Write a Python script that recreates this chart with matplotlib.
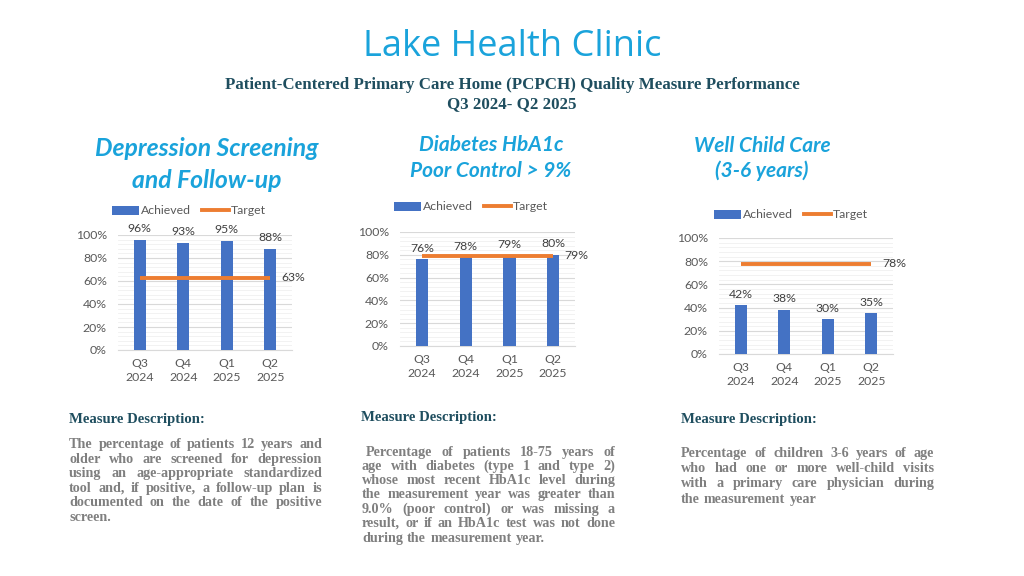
import matplotlib
matplotlib.use("Agg")
import matplotlib.pyplot as plt
from matplotlib.lines import Line2D
from matplotlib.patches import Patch

# ---------------- data ----------------
categories = ["Q3\n2024", "Q4\n2024", "Q1\n2025", "Q2\n2025"]
depression_achieved = [0.96, 0.93, 0.95, 0.88]
depression_target = 0.63
diabetes_achieved = [0.76, 0.78, 0.79, 0.80]
diabetes_target = 0.79
wellchild_achieved = [0.42, 0.38, 0.30, 0.35]
wellchild_target = 0.78
ytick_values = [0, 0.2, 0.4, 0.6, 0.8, 1.0]

titles = [["Depression Screening", "and Follow-up"],
          ["Diabetes HbA1c", "Poor Control > 9%"],
          ["Well Child Care", "(3-6 years)"]]

desc1 = ["The percentage of patients 12 years and",
         "older who are screened for depression",
         "using an age-appropriate standardized",
         "tool and, if positive, a follow-up plan is",
         "documented on the date of the positive",
         "screen."]
desc2 = ["Percentage of patients 18-75 years of",
         "age with diabetes (type 1 and type 2)",
         "whose most recent HbA1c level during",
         "the measurement year was greater than",
         "9.0% (poor control) or was missing a",
         "result, or if an HbA1c test was not done",
         "during the measurement year."]
desc3 = ["Percentage of children 3-6 years of age",
         "who had one or more well-child visits",
         "with a primary care physician during",
         "the measurement year"]

W, H = 1024, 576
fig = plt.figure(figsize=(W / 100, H / 100), dpi=100)
fig.patch.set_facecolor("white")

BAR = "#4472C4"
ORANGE = "#ED7D31"
CYAN = "#1AA3DB"
TEAL = "#1F4E5F"
GRAY_TXT = "#595959"
DESC_GRAY = "#7F7F7F"
AX_FONT = "Lato"


def fx(px):
    return px / W


def fy(py):
    return 1 - py / H


# ---------------- headers ----------------
fig.text(fx(512), fy(47), "Lake Health Clinic", ha="center", va="center",
         fontsize=26, color=CYAN, family="Open Sans")
fig.text(fx(512), fy(85), "Patient-Centered Primary Care Home (PCPCH) Quality Measure Performance",
         ha="center", va="center", fontsize=12.2, color=TEAL, family="Liberation Serif",
         fontweight="bold")
fig.text(fx(512), fy(104), "Q3 2024- Q2 2025", ha="center", va="center", fontsize=12.2,
         color=TEAL, family="Liberation Serif", fontweight="bold")

title_specs = [(207, 149, 180, 17.8), (491, 145, 171, 15), (762, 146, 171, 15)]
for (cx, y1, y2, fs), t in zip(title_specs, titles):
    fig.text(fx(cx), fy(y1), t[0], ha="center", va="center", fontsize=fs, color=CYAN,
             family="Lato", fontweight="bold", fontstyle="italic")
    fig.text(fx(cx), fy(y2), t[1], ha="center", va="center", fontsize=fs, color=CYAN,
             family="Lato", fontweight="bold", fontstyle="italic")

# ---------------- charts ----------------
charts = [
    (depression_achieved, depression_target, (118, 292, 235, 350), (189, 211)),
    (diabetes_achieved, diabetes_target, (400, 575, 232, 346), (471, 207)),
    (wellchild_achieved, wellchild_target, (719, 893, 238, 354), (791, 215)),
]

for vals, tgt, (xl, xr, yt, yb), (lx, ly) in charts:
    ax = fig.add_axes([fx(xl), fy(yb), fx(xr - xl), (yb - yt) / H])
    x = list(range(len(categories)))
    ax.bar(x, vals, width=0.28, color=BAR, zorder=3)
    ax.plot([x[0], x[-1]], [tgt] * 2, color=ORANGE, lw=2.8, zorder=4,
            solid_capstyle="butt")
    for xi, v in zip(x, vals):
        ax.annotate(f"{round(v * 100)}%", (xi, v), xytext=(0, 4), textcoords="offset points",
                    ha="center", va="bottom", fontsize=8.8, color="#404040",
                    family=AX_FONT, annotation_clip=False, zorder=5)
    ax.annotate(f"{round(tgt * 100)}%", (x[-1], tgt), xytext=(8, 0), textcoords="offset points",
                ha="left", va="center", fontsize=8.8, color="#404040", family=AX_FONT,
                annotation_clip=False)
    ax.set_xlim(-0.5, 3.5)
    ax.set_ylim(0, 1.0)
    ax.set_yticks(ytick_values)
    ax.set_yticklabels([f"{int(v * 100)}%" for v in ytick_values], fontsize=8.8,
                       color=GRAY_TXT, family=AX_FONT)
    ax.set_yticks([i / 25 for i in range(26)], minor=True)
    ax.set_xticks(x)
    ax.set_xticklabels(categories, fontsize=8.8, color=GRAY_TXT, family=AX_FONT,
                       linespacing=1.3)
    ax.tick_params(axis="y", length=0, pad=8, which="both")
    ax.tick_params(axis="x", length=0, pad=6)
    ax.grid(axis="y", which="major", color="#d9d9d9", lw=0.8, zorder=0)
    ax.grid(axis="y", which="minor", color="#f0f0f0", lw=0.6, zorder=0)
    for s in ["top", "right", "left"]:
        ax.spines[s].set_visible(False)
    ax.spines["bottom"].set_color("#d9d9d9")
    handles = [Patch(facecolor=BAR, label="Achieved"),
               Line2D([0], [0], color=ORANGE, lw=2.8, label="Target")]
    fig.legend(handles=handles, loc="center", bbox_to_anchor=(fx(lx), fy(ly)), ncol=2,
               frameon=False, handlelength=2.2, handleheight=0.7,
               columnspacing=0.9, handletextpad=0.2, prop={"family": AX_FONT, "size": 8.8},
               labelcolor=GRAY_TXT)

# ---------------- descriptions ----------------
fig.canvas.draw()
renderer = fig.canvas.get_renderer()


def justified(lines, x0, x1, ys, first_indent=0, fs=10.2):
    kw = dict(fontsize=fs, color=DESC_GRAY, family="Liberation Serif", fontweight="bold",
              va="baseline", ha="left")
    for i, (line, y) in enumerate(zip(lines, ys)):
        words = line.split(" ")
        start = x0 + (first_indent if i == 0 else 0)
        texts = [fig.text(0, fy(y + 4), w, **kw) for w in words]
        widths = [t.get_window_extent(renderer).width for t in texts]
        last = i == len(lines) - 1
        normal = fs * 0.25 * 100 / 72 * 1.2
        if last or len(words) == 1:
            space = normal
        else:
            space = (x1 - start - sum(widths)) / (len(words) - 1)
            if space < 2.5:
                scale = (x1 - start - 2.5 * (len(words) - 1)) / sum(widths)
                for t in texts:
                    t.set_fontsize(fs * scale)
                widths = [t.get_window_extent(renderer).width for t in texts]
                space = (x1 - start - sum(widths)) / (len(words) - 1)
        cur = start
        for t, w in zip(texts, widths):
            t.set_x(fx(cur))
            cur += w + space


def heading(x, y):
    fig.text(fx(x), fy(y), "Measure Description:", ha="left", va="center", fontsize=10.6,
             color=TEAL, family="Liberation Serif", fontweight="bold")


heading(69, 419)
justified(desc1, 69, 322, [444, 459, 473, 488, 502, 517])
heading(361, 418)
justified(desc2, 362, 615, [452, 466, 480, 494, 509, 523, 538], first_indent=4)
heading(681, 420)
justified(desc3, 681, 934, [453, 468, 483, 499])

fig.savefig("out.png", dpi=100, facecolor="white")
